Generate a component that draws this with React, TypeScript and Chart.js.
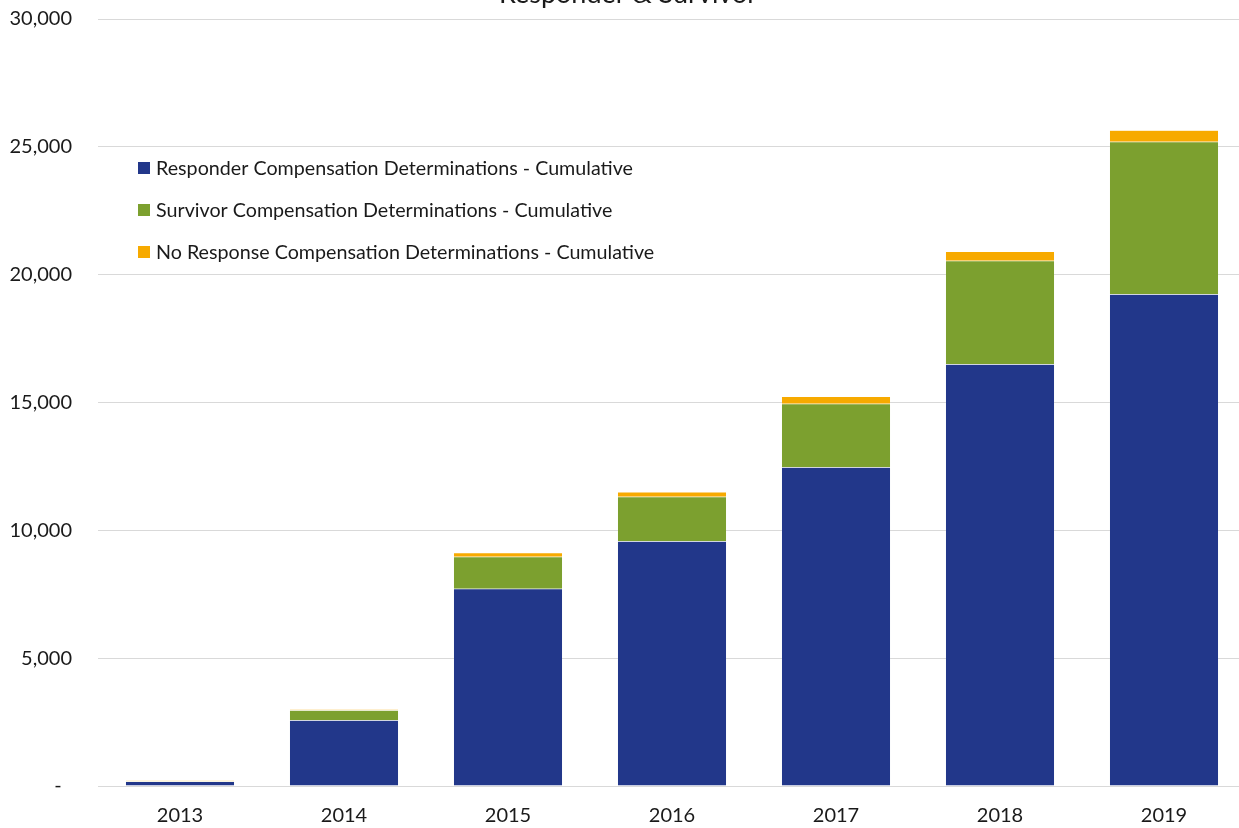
import React, { useEffect, useRef } from "react";
import { Chart, registerables } from "chart.js";

Chart.register(...registerables);

const years = ["2013", "2014", "2015", "2016", "2017", "2018", "2019"];
const responder = [175, 2570, 7715, 9570, 12465, 16500, 19230];
const survivor = [15, 390, 1250, 1745, 2490, 4040, 5970];
const noResponse = [25, 40, 155, 185, 275, 370, 445];
const seriesLabels = [
  "Responder Compensation Determinations - Cumulative",
  "Survivor Compensation Determinations - Cumulative",
  "No Response Compensation Determinations - Cumulative",
];
const seriesColors = ["#22378A", "#7CA02F", "#F7AA00"];
const titleText = "Responder & Survivor";
const FONT = "Lato, 'Noto Sans', sans-serif";
const OFFSET = 30;

const legendPlugin = {
  id: "insideLegend",
  afterDraw(chart: any) {
    const ctx = chart.ctx;
    ctx.save();
    ctx.font = `19.7px ${FONT}`;
    ctx.textBaseline = "middle";
    ctx.textAlign = "left";
    chart.data.datasets.forEach((ds: any, i: number) => {
      const y = 168 + OFFSET + i * 42;
      ctx.fillStyle = ds.backgroundColor;
      ctx.fillRect(138, y - 6, 12, 12);
      ctx.fillStyle = "#1a1a1a";
      ctx.fillText(ds.label, 156, y + 1);
    });
    // title (partly cut off by the top of the page, as in the reference)
    ctx.font = `27px ${FONT}`;
    ctx.textAlign = "center";
    ctx.textBaseline = "alphabetic";
    ctx.fillText(titleText, 628, 3 + OFFSET);
    ctx.restore();
  },
};

export default function App() {
  const ref = useRef<HTMLCanvasElement>(null);
  useEffect(() => {
    if (!ref.current) return;
    const chart = new Chart(ref.current, {
      type: "bar",
      data: {
        labels: years,
        datasets: [responder, survivor, noResponse].map((d, i) => ({
          label: seriesLabels[i],
          data: d,
          backgroundColor: seriesColors[i],
          borderColor: "rgba(255,255,255,0.25)",
          borderWidth: 0.5,
          categoryPercentage: 1,
          barPercentage: 0.665,
        })),
      },
      options: {
        animation: false,
        responsive: false,
        maintainAspectRatio: false,
        layout: { padding: { left: 0, right: 11, top: 19 + OFFSET, bottom: 0 } },
        plugins: {
          legend: { display: false },
          tooltip: { enabled: false },
          title: { display: false },
        },
        scales: {
          x: {
            stacked: true,
            grid: { display: false, drawTicks: false },
            border: { display: true, color: "#d9d9d9", width: 1 },
            ticks: {
              color: "#1a1a1a",
              font: { family: FONT, size: 20 },
              padding: 18,
            },
            afterFit(scale: any) {
              scale.height = 42;
            },
          },
          y: {
            stacked: true,
            min: 0,
            max: 30000,
            grid: { color: "#d9d9d9", lineWidth: 1, drawTicks: false },
            border: { display: false },
            ticks: {
              stepSize: 5000,
              color: "#1a1a1a",
              font: { family: FONT, size: 20 },
              padding: 26,
              callback: (v: any) =>
                Number(v) === 0 ? "-  " : Number(v).toLocaleString("en-US"),
            },
            afterFit(scale: any) {
              scale.width = 98;
            },
          },
        },
      },
      plugins: [legendPlugin],
    });
    return () => chart.destroy();
  }, []);
  return (
    <div
      style={{
        position: "fixed",
        left: 0,
        top: 0,
        width: "100vw",
        height: "100vh",
        overflow: "hidden",
        background: "#fff",
      }}
    >
      <canvas
        ref={ref}
        width={1257}
        height={828 + OFFSET}
        style={{ position: "absolute", left: 0, top: -OFFSET, width: 1257, height: 828 + OFFSET }}
      />
    </div>
  );
}
